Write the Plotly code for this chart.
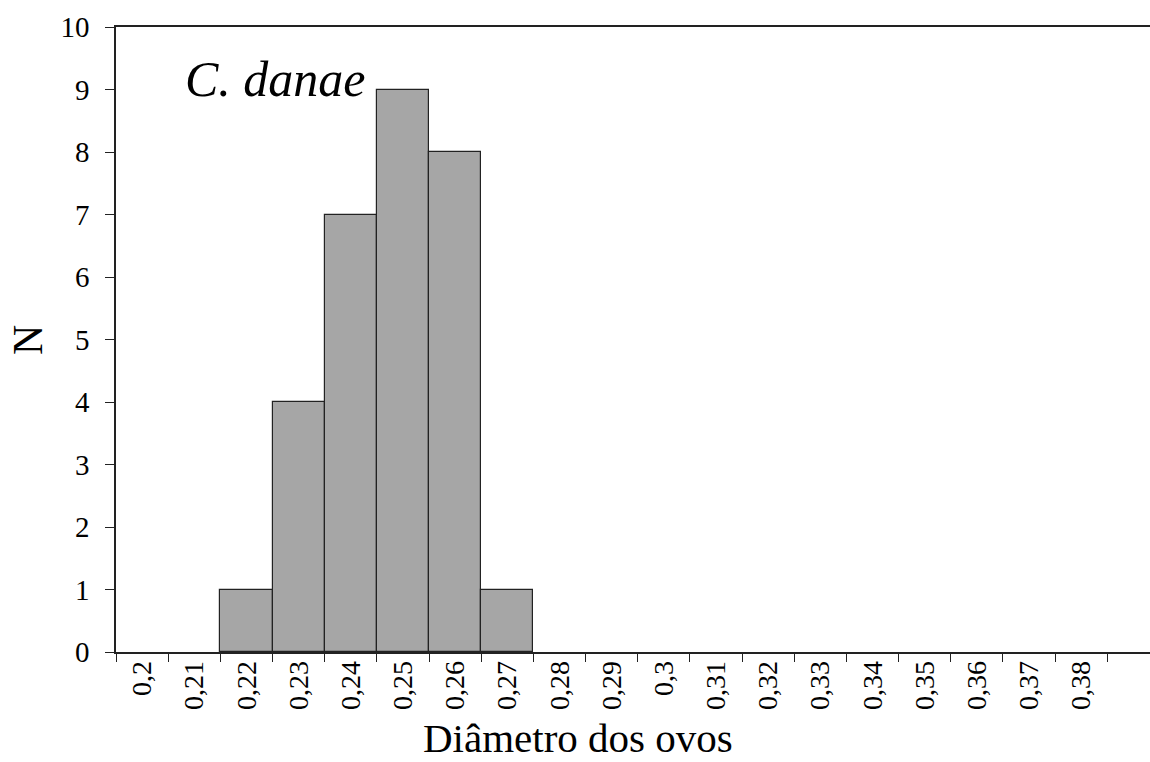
import plotly.graph_objects as go

# Egg diameter classes and counts
diameters = ["0,2", "0,21", "0,22", "0,23", "0,24", "0,25", "0,26", "0,27", "0,28",
             "0,29", "0,3", "0,31", "0,32", "0,33", "0,34", "0,35", "0,36", "0,37", "0,38"]
counts = [0, 0, 1, 4, 7, 9, 8, 1, 0, 0, 0, 0, 0, 0, 0, 0, 0, 0, 0]
species = "C. danae"

FONT = "Liberation Serif, Times New Roman, serif"

# empty classes get no outline so nothing is drawn on the baseline
outline_widths = [1.2 if c > 0 else 0 for c in counts]

fig = go.Figure(go.Bar(
    x=diameters,
    y=counts,
    marker=dict(color="#a6a6a6", line=dict(color="#222222", width=outline_widths)),
    hoverinfo="x+y",
))

fig.update_layout(
    width=1150,
    height=762,
    margin=dict(l=116, r=0, t=27, b=110),
    paper_bgcolor="white",
    plot_bgcolor="white",
    bargap=0,
    showlegend=False,
    font=dict(family=FONT, color="black"),
    xaxis=dict(
        type="category",
        range=[-0.5, 19.32],
        tickson="boundaries",
        ticks="outside",
        ticklen=8,
        tickwidth=1.2,
        tickcolor="#222222",
        tickangle=-90,
        ticklabelstandoff=-4,
        tickfont=dict(family=FONT, size=28, color="black"),
        showline=True,
        linecolor="#222222",
        linewidth=1.5,
        mirror=True,
        showgrid=False,
        zeroline=False,
    ),
    yaxis=dict(
        range=[0, 10],
        dtick=1,
        ticks="outside",
        ticklen=9,
        tickwidth=1.2,
        tickcolor="#222222",
        ticklabelstandoff=10,
        tickfont=dict(family=FONT, size=29, color="black"),
        showline=True,
        linecolor="#222222",
        linewidth=1.5,
        showgrid=False,
        zeroline=False,
    ),
    annotations=[
        dict(text=f"<i>{species}</i>", xref="paper", yref="y", x=(183 - 116) / 1034, y=9.17,
             xanchor="left", yanchor="middle", showarrow=False,
             font=dict(family=FONT, size=50, color="black")),
        dict(text="Diâmetro dos ovos", xref="paper", yref="paper", x=(578 - 116) / 1034,
             y=(652 - 738) / 625, xanchor="center", yanchor="middle", showarrow=False,
             font=dict(family=FONT, size=41, color="black")),
        dict(text="N", xref="paper", yref="paper", x=(28 - 116) / 1034,
             y=(652 - 340) / 625, xanchor="center", yanchor="middle", showarrow=False,
             textangle=-90, font=dict(family=FONT, size=42, color="black")),
    ],
)

fig.write_html("out.html")
